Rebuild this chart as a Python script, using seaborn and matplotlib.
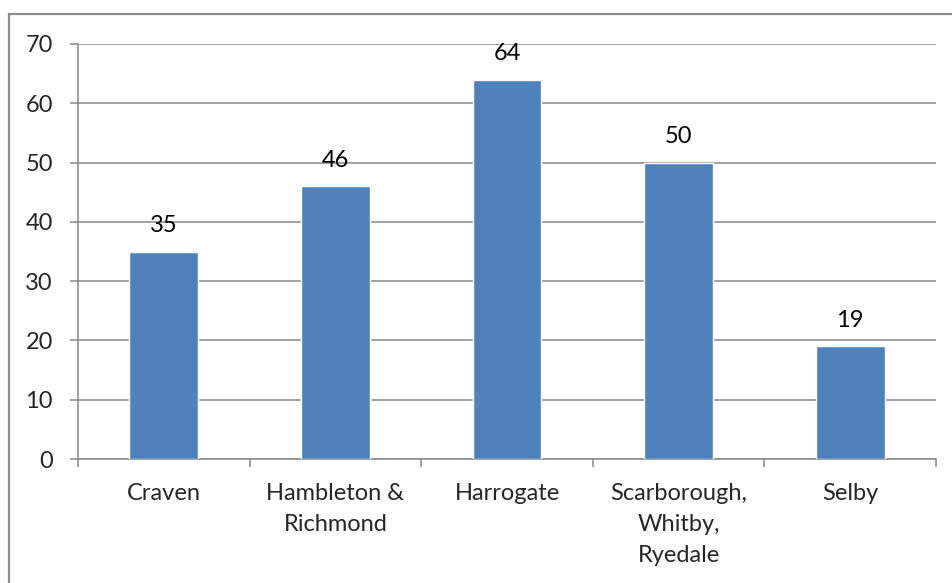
import matplotlib
matplotlib.use("Agg")
import matplotlib.pyplot as plt
import seaborn as sns
import pandas as pd
from matplotlib.lines import Line2D

districts = ["Craven", "Hambleton &\nRichmond", "Harrogate", "Scarborough,\nWhitby,\nRyedale", "Selby"]
counts = [35, 46, 64, 50, 19]
y_ticks = [0, 10, 20, 30, 40, 50, 60, 70]

sns.set_theme(style="white")
plt.rcParams["font.family"] = ["Lato", "DejaVu Sans"]

df = pd.DataFrame({"district": districts, "count": counts})

fig = plt.figure(figsize=(9.52, 5.83), dpi=100)
ax = fig.add_axes([78 / 952, 1 - 459 / 583, (936 - 78) / 952, (459 - 44) / 583])

sns.barplot(data=df, x="district", y="count", color="#4F81BD", width=0.4,
            saturation=1, ax=ax, zorder=3)

grid_col = "#888888"
fs = 17
ax.set_ylim(0, 70)
ax.set_xlim(-0.5, len(districts) - 0.5)
ax.set_yticks(y_ticks)
ax.yaxis.grid(True, color=grid_col, linewidth=1.1, zorder=0)
ax.set_axisbelow(True)
ax.set_xlabel("")
ax.set_ylabel("")

for side in ["top", "right"]:
    ax.spines[side].set_visible(False)
for side in ["left", "bottom"]:
    ax.spines[side].set_visible(True)
    ax.spines[side].set_color(grid_col)
    ax.spines[side].set_linewidth(1.1)

# category boundaries carry the x tick marks
ax.set_xticks([i - 0.5 for i in range(len(districts) + 1)], minor=False)
ax.set_xticklabels([])
ax.set_xticks(range(len(districts)), minor=True)
ax.set_xticklabels(districts, minor=True, fontsize=fs, linespacing=1.6, va="top")
ax.tick_params(axis="x", which="major", length=6, width=1.1, color=grid_col, direction="out", bottom=True)
ax.tick_params(axis="x", which="minor", length=0, pad=17)
ax.tick_params(axis="y", length=6, width=1.1, color=grid_col, direction="out", left=True, pad=12, labelsize=fs)

for i, v in enumerate(counts):
    ax.annotate(str(v), (i, v), xytext=(0, 11), textcoords="offset points",
                ha="center", va="bottom", fontsize=fs, color="black")

# chart frame
fig.add_artist(Line2D([9 / 952, 1.0], [1 - 14 / 583, 1 - 14 / 583], transform=fig.transFigure,
                      color="#8c8c8c", linewidth=1.6))
fig.add_artist(Line2D([9 / 952, 9 / 952], [1 - 14 / 583, 0], transform=fig.transFigure,
                      color="#8c8c8c", linewidth=1.6))

fig.savefig("out.png", dpi=100)
